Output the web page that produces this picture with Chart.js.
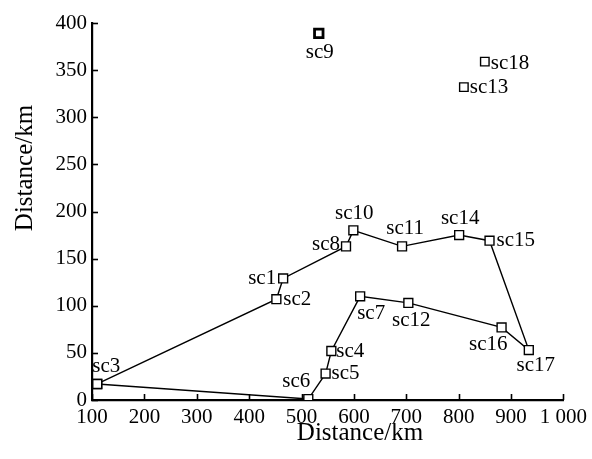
<!DOCTYPE html>
<html>
<head>
<meta charset="utf-8">
<script src="https://cdn.jsdelivr.net/npm/chart.js@4.4.0/dist/chart.umd.min.js"></script>
<style>
  html, body { margin: 0; padding: 0; background: #fff; }
  #wrap { width: 592px; height: 459px; }
</style>
</head>
<body>
<div id="wrap"><canvas id="myChart" width="592" height="459"></canvas></div>
<script>
// station names and coordinates (km)
const names = ["sc1", "sc2", "sc3", "sc4", "sc5", "sc6", "sc7", "sc8", "sc9",
  "sc10", "sc11", "sc12", "sc13", "sc14", "sc15", "sc16", "sc17", "sc18"];
const xs = [465, 452, 110, 557, 546, 513, 612, 585, 533,
  599, 692, 704, 810, 801, 859, 882, 934, 850];
const ys = [129, 107, 17, 52, 28, 1, 110, 163, 389,
  180, 163, 103, 332, 175, 169, 77, 53, 359];
// visiting order of the closed route
const route = ["sc3", "sc2", "sc1", "sc8", "sc10", "sc11", "sc14", "sc15", "sc17",
  "sc16", "sc12", "sc7", "sc4", "sc5", "sc6", "sc3"];
const xTicks = [100, 200, 300, 400, 500, 600, 700, 800, 900, 1000];
const yTicks = [0, 50, 100, 150, 200, 250, 300, 350, 400];

const FONT = "'Liberation Serif', 'DejaVu Serif', serif";

function pt(n) {
  const i = names.indexOf(n);
  return { x: xs[i], y: ys[i], name: n };
}
const routeData = route.map(pt);
const loneData = names.filter(n => route.indexOf(n) < 0).map(pt);

// label placement: [align, dx, dy, baseline]
const labelPos = {
  sc1: ["right", -7, 0, "middle"],
  sc2: ["left", 7, 0, "middle"],
  sc3: ["center", 9, -7, "bottom"],
  sc4: ["left", 5, 0, "middle"],
  sc5: ["left", 6, 0, "middle"],
  sc6: ["center", -12, -7, "bottom"],
  sc7: ["left", -3, 7, "top"],
  sc8: ["right", -6, -2, "middle"],
  sc9: ["center", 1, 9, "top"],
  sc10: ["center", 1, -6, "bottom"],
  sc11: ["center", 3, -7, "bottom"],
  sc12: ["center", 3, 7, "top"],
  sc13: ["left", 6, 0, "middle"],
  sc14: ["center", 1, -6, "bottom"],
  sc15: ["left", 7, 0, "middle"],
  sc16: ["right", 6, 7, "top"],
  sc17: ["center", 7, 5, "top"],
  sc18: ["left", 6, 2, "middle"]
};

const decor = {
  id: "decor",
  afterDatasetsDraw(chart) {
    const c = chart.ctx;
    const sx = chart.scales.x, sy = chart.scales.y;
    const a = chart.chartArea;
    c.save();
    c.strokeStyle = "#000";
    c.lineWidth = 1.6;
    // inward ticks
    xTicks.forEach(v => {
      const px = Math.round(sx.getPixelForValue(v)) + 0.5;
      c.beginPath(); c.moveTo(px, a.bottom); c.lineTo(px, a.bottom - 6); c.stroke();
    });
    yTicks.forEach(v => {
      const py = Math.round(sy.getPixelForValue(v)) + 0.5;
      c.beginPath(); c.moveTo(a.left, py); c.lineTo(a.left + 6, py); c.stroke();
    });
    // point labels
    c.fillStyle = "#000";
    c.font = "21px " + FONT;
    names.forEach((n, i) => {
      const p = labelPos[n];
      c.textAlign = p[0];
      c.textBaseline = p[3];
      c.fillText(n, sx.getPixelForValue(xs[i]) + p[1], sy.getPixelForValue(ys[i]) + p[2]);
    });
    // axis titles
    c.font = "25px " + FONT;
    c.textAlign = "center";
    c.textBaseline = "middle";
    c.fillText("Distance/km", 360, 433);
    c.translate(25, 168);
    c.rotate(-Math.PI / 2);
    c.fillText("Distance/km", 0, 0);
    c.restore();
  }
};

const ctx = document.getElementById("myChart").getContext("2d");
const chart = new Chart(ctx, {
  type: "scatter",
  data: {
    datasets: [
      {
        data: routeData,
        showLine: true,
        borderColor: "#000",
        borderWidth: 1.4,
        pointStyle: "rect",
        pointRadius: 6.3,
        pointBackgroundColor: "#fff",
        pointBorderColor: "#000",
        pointBorderWidth: 1.4
      },
      {
        data: loneData,
        showLine: false,
        pointStyle: "rect",
        pointRadius: 6,
        pointBackgroundColor: "#fff",
        pointBorderColor: "#000",
        pointBorderWidth: loneData.map(p => p.name === "sc9" ? 2.8 : 1.4)
      }
    ]
  },
  options: {
    responsive: false,
    animation: false,
    devicePixelRatio: 1,
    layout: { padding: { top: 23, right: 23, left: 0, bottom: 0 } },
    plugins: { legend: { display: false }, tooltip: { enabled: false } },
    scales: {
      x: {
        type: "linear",
        min: 100,
        max: 1000,
        afterBuildTicks: s => { s.ticks = xTicks.map(v => ({ value: v })); },
        afterFit: s => { s.height = 59; },
        grid: { display: false, drawTicks: false },
        border: { display: true, color: "#000", width: 2.2 },
        ticks: {
          padding: 5,
          color: "#000",
          font: { family: FONT, size: 21 },
          maxRotation: 0,
          callback: v => v === 1000 ? "1 000" : String(v)
        }
      },
      y: {
        type: "linear",
        min: 0,
        max: 400,
        afterBuildTicks: s => { s.ticks = yTicks.map(v => ({ value: v })); },
        afterFit: s => { s.width = 92; },
        grid: { display: false, drawTicks: false },
        border: { display: true, color: "#000", width: 2.2 },
        ticks: {
          padding: 5,
          color: "#000",
          font: { family: FONT, size: 21 }
        }
      }
    }
  },
  plugins: [decor]
});
</script>
</body>
</html>
